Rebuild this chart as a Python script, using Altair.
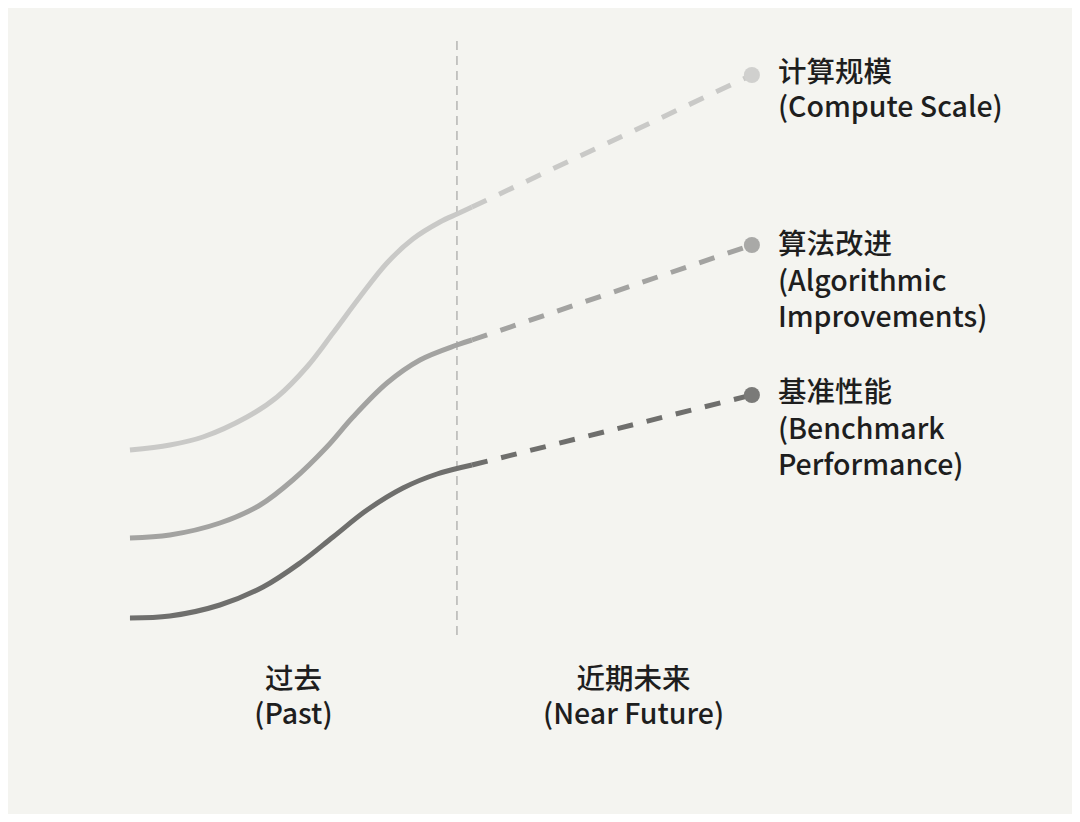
import altair as alt
import pandas as pd

# ---- data (t: time units, v: level) ----
series = ["计算规模", "算法改进", "基准性能"]
colors = ["#c9c9c7", "#a3a3a1", "#6f6f6d"]
dot_colors = ["#d0d0ce", "#a9a9a7", "#7a7a78"]

top_t = [0, 1.22, 2.23, 3.58, 4.50, 5.41, 6.21, 7.03, 7.86, 8.65, 9.48, 10, 10.46]
top_v = [40, 41, 42.6, 46.6, 50.6, 56.6, 63.4, 70.6, 77.4, 82.2, 85.6, 87.2, 88.6]

mid_t = [0, 1.22, 2.75, 3.98, 4.98, 6.02, 6.82, 7.86, 8.87, 10, 10.46]
mid_v = [22.4, 23, 25.4, 29, 34, 40.6, 46.6, 53.4, 58, 61, 62]

bot_t = [0, 1.22, 2.75, 4.07, 5.2, 6.21, 7.25, 8.35, 9.39, 10.46]
bot_v = [6.4, 6.8, 9, 12.6, 17.4, 22.6, 28, 32.4, 35.2, 37]

end_t = 19.02
end_v = [115, 81, 51]

label_lines = [
    ["计算规模", "(Compute Scale)"],
    ["算法改进", "(Algorithmic", "Improvements)"],
    ["基准性能", "(Benchmark", "Performance)"],
]
label_v = [[115.4, 108.4], [81, 73.6, 66.4], [51.4, 44, 36.8]]

phase_names = [["过去", "(Past)"], ["近期未来", "(Near Future)"]]
phase_t = [5, 15.4]
phase_v = [-6, -13]

divider_t = 10
divider_v = [3, 122.4]

# ---- tables ----
solid_rows = []
for name, ts, vs in zip(series, [top_t, mid_t, bot_t], [top_v, mid_v, bot_v]):
    for t, v in zip(ts, vs):
        solid_rows.append({"s": name, "t": t, "v": v})
solid = pd.DataFrame(solid_rows)

dash_rows = []
for name, ts, vs, ev in zip(series, [top_t, mid_t, bot_t], [top_v, mid_v, bot_v], end_v):
    dash_rows.append({"s": name, "t": ts[-1], "v": vs[-1]})
    dash_rows.append({"s": name, "t": end_t, "v": ev})
dashed = pd.DataFrame(dash_rows)

dots = pd.DataFrame({"s": series, "t": [end_t] * 3, "v": end_v})

lab_rows = []
for lines, vs in zip(label_lines, label_v):
    for line, v in zip(lines, vs):
        lab_rows.append({"text": line, "t": end_t, "v": v})
labels = pd.DataFrame(lab_rows)

ph_rows = []
for names, t in zip(phase_names, phase_t):
    for line, v in zip(names, phase_v):
        ph_rows.append({"text": line, "t": t, "v": v})
phases = pd.DataFrame(ph_rows)

div = pd.DataFrame({"t": [divider_t], "v": [divider_v[0]], "v2": [divider_v[1]]})

xs = alt.Scale(domain=[-3.73, 28.81], nice=False, zero=False)
ys = alt.Scale(domain=[-32.8, 128.4], nice=False, zero=False)
X = alt.X("t:Q", scale=xs, axis=None)
Y = alt.Y("v:Q", scale=ys, axis=None)
col = alt.Color("s:N", scale=alt.Scale(domain=series, range=colors), legend=None)
dcol = alt.Color("s:N", scale=alt.Scale(domain=series, range=dot_colors), legend=None)

FONT = "Noto Sans CJK SC"

divider = alt.Chart(div).mark_rule(color="#b5b5b3", strokeWidth=1.5, strokeDash=[9, 6]).encode(
    x=X, y=Y, y2="v2:Q"
)
solid_lines = alt.Chart(solid).mark_line(strokeWidth=5, interpolate="catmull-rom").encode(
    x=X, y=Y, color=col, detail="s:N"
)
dashed_lines = alt.Chart(dashed).mark_line(strokeWidth=5, strokeDash=[16, 14]).encode(
    x=X, y=Y, color=col, detail="s:N"
)
dot_layer = alt.Chart(dots).mark_circle(size=260, opacity=1).encode(x=X, y=Y, color=dcol)
label_layer = alt.Chart(labels).mark_text(
    align="left", baseline="middle", dx=26, font=FONT, fontSize=28.5, fontWeight=500, color="#1e1e1e"
).encode(x=X, y=Y, text="text:N")
phase_layer = alt.Chart(phases).mark_text(
    align="center", baseline="middle", font=FONT, fontSize=28.5, fontWeight=500, color="#1e1e1e"
).encode(x=X, y=Y, text="text:N")

chart = (
    alt.layer(divider, solid_lines, dashed_lines, dot_layer, label_layer, phase_layer)
    .resolve_scale(color="independent")
    .properties(
        width=1064,
        height=806,
        autosize=alt.AutoSizeParams(type="fit", contains="padding"),
        padding=0,
    )
    .configure(background="#f4f4f0")
    .configure_view(stroke=None)
)

chart.save("out.html", embed_options={"renderer": "svg", "actions": False})
